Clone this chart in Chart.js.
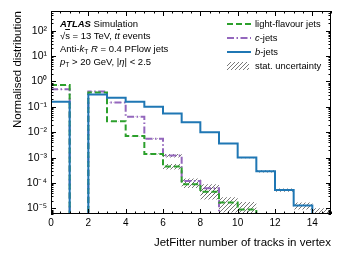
<!DOCTYPE html>
<html lang="en">
<head>
<meta charset="UTF-8">
<title>JetFitter number of tracks in vertex</title>
<script src="https://cdn.jsdelivr.net/npm/chart.js"></script>
<style>
  html, body { margin: 0; padding: 0; background: #fff; }
  #wrap { position: relative; width: 341px; height: 256px; font-family: "Liberation Sans", Arial, sans-serif; color: #000; }
  #chart { position: absolute; left: 0; top: 0; }
  .txt { position: absolute; font-size: 9.5px; line-height: 1; white-space: nowrap; }
  .txt sub { font-size: 70%; vertical-align: -2px; line-height: 0; }
  .ov { text-decoration: overline; }
  .leg { position: absolute; left: 227px; font-size: 9.4px; line-height: 1; white-space: nowrap; }
  .leg svg { position: absolute; left: 0; top: -4px; }
  .leg span { position: absolute; left: 28px; top: -5px; }
</style>
</head>
<body>
<div id="wrap">
  <canvas id="chart" width="341" height="256"></canvas>

  <div class="txt" style="left:60px; top:19px;"><b><i>ATLAS</i></b> Simulation</div>
  <div class="txt" style="left:60px; top:31px;">√<span class="ov">s</span> = 13 TeV, <i>t<span class="ov">t</span></i> events</div>
  <div class="txt" style="left:60px; top:44px;">Anti-<i>k</i><sub>T</sub> <i>R</i> = 0.4 PFlow jets</div>
  <div class="txt" style="left:60px; top:57px;"><i>p</i><sub>T</sub> &gt; 20 GeV, |<i>η</i>| &lt; 2.5</div>

  <div class="leg" style="top:24px;">
    <svg width="24" height="8"><line x1="0" y1="4" x2="24" y2="4" stroke="#2ca02c" stroke-width="2" stroke-dasharray="6,3"/></svg>
    <span>light-flavour jets</span>
  </div>
  <div class="leg" style="top:38px;">
    <svg width="24" height="8"><line x1="0" y1="4" x2="24" y2="4" stroke="#9467bd" stroke-width="2" stroke-dasharray="7,2.5,1.5,2.5"/></svg>
    <span><i>c</i>-jets</span>
  </div>
  <div class="leg" style="top:52px;">
    <svg width="24" height="8"><line x1="0" y1="4" x2="24" y2="4" stroke="#1f77b4" stroke-width="2"/></svg>
    <span><i>b</i>-jets</span>
  </div>
  <div class="leg" style="top:66px;">
    <svg width="24" height="8">
      <defs><pattern id="hatch" width="4" height="4" patternUnits="userSpaceOnUse"><path d="M-1,1 l2,-2 M0,4 l4,-4 M3,5 l2,-2" stroke="#555" stroke-width="0.8"/></pattern></defs>
      <rect x="0" y="0" width="22" height="8" fill="url(#hatch)"/>
    </svg>
    <span>stat. uncertainty</span>
  </div>
</div>

<script>
// bins: number of tracks 0..14, each bin [n, n+1)
const binEdges = [0, 1, 2, 3, 4, 5, 6, 7, 8, 9, 10, 11, 12, 13, 14, 15];
const lightJets = [0.72, 0, 0.37, 0.027, 0.0071, 0.0014, 4.5e-4, 9e-5, 4.5e-5, 1.7e-5, 9e-6, 0, 0, 0, 0];
const cJets     = [0.49, 0, 0.40, 0.15, 0.041, 0.0055, 1.2e-3, 1.2e-4, 6.2e-5, 0, 0, 0, 0, 0, 0];
const bJets     = [0.16, 0, 0.31, 0.23, 0.16, 0.10, 0.055, 0.025, 0.010, 0.0036, 0.001, 2.9e-4, 5.3e-5, 1.3e-5, 4e-6];
// relative statistical uncertainty per bin
const lightErr = [0.01, 0, 0.01, 0.01, 0.01, 0.03, 0.25, 0.3, 0.5, 0.6, 1.0, 0, 0, 0, 0];
const cErr     = [0.01, 0, 0.01, 0.01, 0.01, 0.03, 0.15, 0.25, 0.45, 0, 0, 0, 0, 0, 0];
const bErr     = [0.01, 0, 0.01, 0.01, 0.01, 0.01, 0.01, 0.01, 0.02, 0.04, 0.06, 0.1, 0.15, 0.3, 1.5];

const xTicks = [0, 2, 4, 6, 8, 10, 12, 14];
const yTickValues = [1e-5, 1e-4, 1e-3, 1e-2, 1e-1, 1e0, 1e1, 1e2];
const yTickLabels = ['10⁻⁵', '10⁻⁴', '10⁻³', '10⁻²', '10⁻¹', '10⁰', '10¹', '10²'];

const TINY = 1e-9;

function stepPoints(vals) {
  const pts = vals.map((v, i) => ({ x: binEdges[i], y: v > 0 ? v : TINY }));
  pts.push({ x: binEdges[vals.length], y: pts[pts.length - 1].y });
  return pts;
}

function makeHatch() {
  const c = document.createElement('canvas');
  c.width = 4; c.height = 4;
  const g = c.getContext('2d');
  g.strokeStyle = '#555';
  g.lineWidth = 0.8;
  g.beginPath();
  g.moveTo(-1, 1); g.lineTo(1, -1);
  g.moveTo(0, 4); g.lineTo(4, 0);
  g.moveTo(3, 5); g.lineTo(5, 3);
  g.stroke();
  return g.createPattern(c, 'repeat');
}
const hatch = makeHatch();

function band(vals, errs) {
  const up = vals.map((v, i) => v > 0 ? v * (1 + errs[i]) : 0);
  const lo = vals.map((v, i) => v > 0 ? v * (1 - errs[i]) : 0);
  return [
    { data: stepPoints(up), stepped: true, borderWidth: 0, pointRadius: 0, fill: false, order: 10 },
    { data: stepPoints(lo), stepped: true, borderWidth: 0, pointRadius: 0, fill: '-1', backgroundColor: hatch, order: 10 }
  ];
}

const frameTicks = {
  id: 'frameTicks',
  afterDraw(chart) {
    const { ctx, chartArea: a, scales: { x, y } } = chart;
    ctx.save();
    ctx.strokeStyle = '#000';
    ctx.lineWidth = 1;
    ctx.strokeRect(a.left + 0.5, a.top + 0.5, a.right - a.left - 1, a.bottom - a.top - 1);
    ctx.beginPath();
    for (let v = 0; v <= 15; v += 0.5) {
      const px = Math.round(x.getPixelForValue(v)) + 0.5;
      const len = v % 2 === 0 ? 5 : 2.5;
      ctx.moveTo(px, a.bottom); ctx.lineTo(px, a.bottom - len);
      ctx.moveTo(px, a.top); ctx.lineTo(px, a.top + len);
    }
    for (let e = -6; e <= 2; e++) {
      for (let m = 1; m <= 9; m++) {
        const v = m * Math.pow(10, e);
        if (v < y.min || v > y.max) continue;
        const py = Math.round(y.getPixelForValue(v)) + 0.5;
        const len = m === 1 ? 5 : 2.5;
        ctx.moveTo(a.left, py); ctx.lineTo(a.left + len, py);
        ctx.moveTo(a.right, py); ctx.lineTo(a.right - len, py);
      }
    }
    ctx.stroke();
    ctx.restore();
  }
};

new Chart(document.getElementById('chart'), {
  type: 'line',
  data: {
    datasets: [
      { label: 'light-flavour jets', data: stepPoints(lightJets), stepped: true, borderColor: '#2ca02c', borderWidth: 2, borderDash: [6, 3], pointRadius: 0, fill: false, order: 1 },
      { label: 'c-jets', data: stepPoints(cJets), stepped: true, borderColor: '#9467bd', borderWidth: 2, borderDash: [7, 2.5, 1.5, 2.5], pointRadius: 0, fill: false, order: 2 },
      { label: 'b-jets', data: stepPoints(bJets), stepped: true, borderColor: '#1f77b4', borderWidth: 2, pointRadius: 0, fill: false, order: 0 },
      ...band(lightJets, lightErr),
      ...band(cJets, cErr),
      ...band(bJets, bErr)
    ]
  },
  options: {
    responsive: false,
    animation: false,
    layout: { padding: { left: 0, right: 10, top: 11, bottom: 0 } },
    plugins: { legend: { display: false }, tooltip: { enabled: false } },
    scales: {
      x: {
        type: 'linear',
        min: 0, max: 15,
        grid: { display: false, drawTicks: false },
        border: { display: false },
        afterBuildTicks: s => { s.ticks = xTicks.map(v => ({ value: v })); },
        ticks: { color: '#000', padding: 3, maxRotation: 0, font: { family: 'Liberation Sans', size: 10 } },
        title: { display: true, text: 'JetFitter number of tracks in vertex', align: 'end', color: '#000', padding: { top: 2, bottom: 6 }, font: { family: 'Liberation Sans', size: 11.5 } },
        afterFit: s => { s.height = 42; }
      },
      y: {
        type: 'logarithmic',
        min: 6e-6, max: 600,
        grid: { display: false, drawTicks: false },
        border: { display: false },
        afterBuildTicks: s => { s.ticks = yTickValues.map(v => ({ value: v })); },
        ticks: {
          color: '#000', padding: 4, autoSkip: false,
          font: { family: 'Liberation Sans', size: 10.5 },
          callback: (v) => yTickLabels[yTickValues.findIndex(t => Math.abs(Math.log10(t) - Math.log10(v)) < 1e-6)]
        },
        title: { display: true, text: 'Normalised distribution', align: 'end', color: '#000', padding: { top: 11, bottom: 0 }, font: { family: 'Liberation Sans', size: 11.5 } },
        afterFit: s => { s.width = 51; }
      }
    }
  },
  plugins: [frameTicks]
});
</script>
</body>
</html>
